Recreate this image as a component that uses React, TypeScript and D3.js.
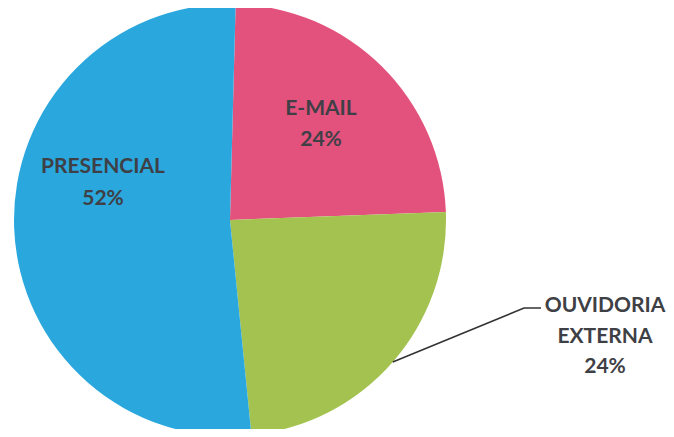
import React from "react";
import * as d3 from "d3";

const categories = ["E-MAIL", "OUVIDORIA EXTERNA", "PRESENCIAL"];
const values = [24, 24, 52];
const labels = ["24%", "24%", "52%"];
const colors = ["#E2527C", "#A3C24F", "#2AA8DE"];

const W = 674;
const H = 437;

export default function App() {
  const cx = 230;
  const cy = 220;
  const r = 216;
  const rot = (1.5 * Math.PI) / 180;
  const pie = d3.pie<number>().sort(null).startAngle(rot).endAngle(2 * Math.PI + rot);
  const arcs = pie(values);
  const arc = d3.arc<d3.PieArcDatum<number>>().innerRadius(0).outerRadius(r);

  const textStyle: React.CSSProperties = {
    fontFamily: "Lato, 'Open Sans', sans-serif",
    fontWeight: 700,
    fontSize: 21,
    fill: "#3f3f46",
  };

  // leader line point on the green slice edge
  const g = arcs[1];
  const mid = (g.startAngle + g.endAngle) / 2;
  const p0: [number, number] = [cx + Math.sin(mid) * r, cy - Math.cos(mid) * r];

  return (
    <div style={{ margin: -8 }}>
      <svg width={W} height={H} style={{ display: "block", background: "#fff" }}>
        <g transform={`translate(${cx},${cy})`}>
          {arcs.map((a, i) => (
            <path key={i} d={arc(a) as string} fill={colors[i]} />
          ))}
        </g>
        {/* E-MAIL */}
        <text x={321} y={115} textAnchor="middle" style={textStyle}>{categories[0]}</text>
        <text x={321} y={146} textAnchor="middle" style={textStyle}>{labels[0]}</text>
        {/* PRESENCIAL */}
        <text x={103} y={173} textAnchor="middle" style={textStyle}>{categories[2]}</text>
        <text x={103} y={205} textAnchor="middle" style={textStyle}>{labels[2]}</text>
        {/* OUVIDORIA EXTERNA */}
        <polyline
          points={`${p0[0]},${p0[1]} 524,308 541,308`}
          fill="none"
          stroke="#333"
          strokeWidth={1.6}
        />
        <text x={605} y={312} textAnchor="middle" style={textStyle}>OUVIDORIA</text>
        <text x={605} y={343} textAnchor="middle" style={textStyle}>EXTERNA</text>
        <text x={605} y={373} textAnchor="middle" style={textStyle}>{labels[1]}</text>
      </svg>
    </div>
  );
}
